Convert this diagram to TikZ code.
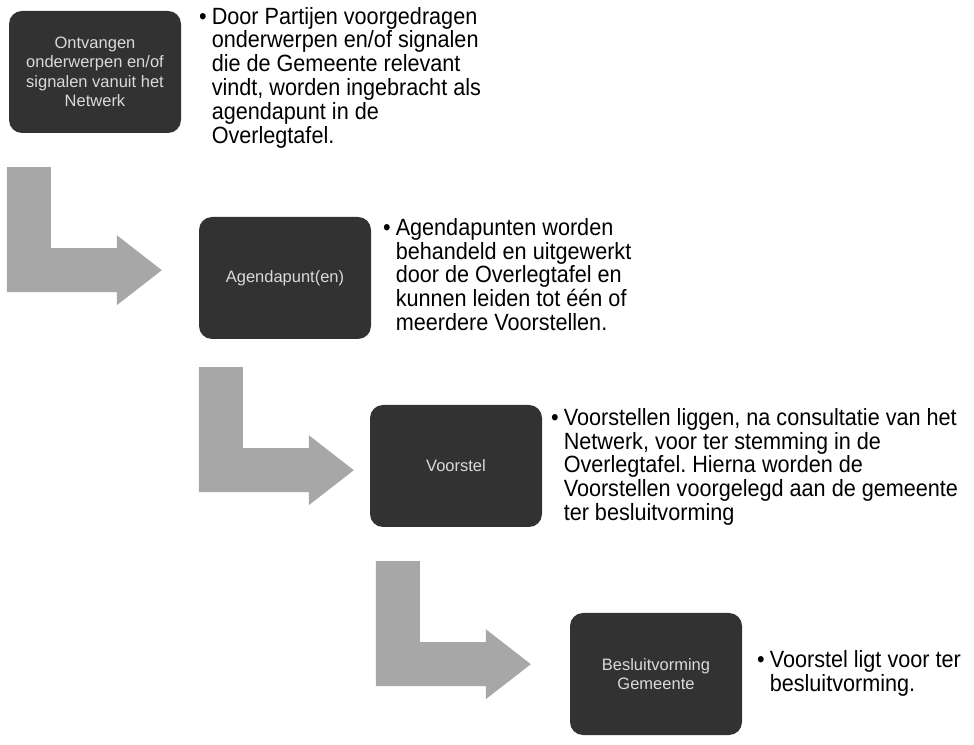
\documentclass[tikz,border=0pt]{standalone}
\usepackage{fontspec}
\setmainfont{Liberation Sans}
\newfontfamily\notefont[FakeStretch=0.92]{Liberation Sans}
\usetikzlibrary{calc}
\frenchspacing

\definecolor{boxgray}{HTML}{323232}
\definecolor{boxtext}{HTML}{DADADA}
\definecolor{arrowgray}{HTML}{A7A7A7}

\tikzset{
  bent/.pic={
    \fill[arrowgray] (0,0) -- (44,0) -- (44,-81) -- (110,-81) -- (110,-68)
      -- (155,-103) -- (110,-138) -- (110,-125) -- (0,-125) -- cycle;
  }
}

\begin{document}
\begin{tikzpicture}[x=1pt, y=1pt]

   \useasboundingbox (0,0) rectangle (974,744);

   \begin{scope}[every node/.style={rectangle, rounded corners=13pt, fill=boxgray, text=boxtext,
       minimum width=172pt, minimum height=122pt, align=center, inner sep=2pt,
       font=\fontsize{16.5}{19.5}\selectfont}]
    \node (b1) at (95,672) {Ontvangen\\onderwerpen en/of\\signalen vanuit het\\Netwerk};
    \node (b2) at (285,466) {Agendapunt(en)};
    \node (b3) at (456,278) {Voorstel};
    \node (b4) at (656,70) {Besluitvorming\\Gemeente};
   \end{scope}

   \pic at ($(b1.south west)+(-2,-34)$) {bent};
   \pic at ($(b2.south west)+(0,-28)$) {bent};
   \pic at ($(b3.south west)+(6,-34)$) {bent};

   \begin{scope}[every node/.style={anchor=north west, inner sep=0pt,
       font=\notefont\fontsize{23.5}{22.5}\selectfont}]
    \node (t1) at (199,737) {\begin{tabular}{@{}l@{\hspace{5pt}}l@{}}
      \textbullet & Door Partijen voorgedragen\\
      & onderwerpen en/of signalen\\
      & die de Gemeente relevant\\
      & vindt, worden ingebracht als\\
      & agendapunt in de\\
      & Overlegtafel.\end{tabular}};
    \node (t2) at (383,526) {\begin{tabular}{@{}l@{\hspace{5pt}}l@{}}
      \textbullet & Agendapunten worden\\
      & behandeld en uitgewerkt\\
      & door de Overlegtafel en\\
      & kunnen leiden tot één of\\
      & meerdere Voorstellen.\end{tabular}};
    \node (t3) at (551,336) {\begin{tabular}{@{}l@{\hspace{5pt}}l@{}}
      \textbullet & Voorstellen liggen, na consultatie van het\\
      & Netwerk, voor ter stemming in de\\
      & Overlegtafel. Hierna worden de\\
      & Voorstellen voorgelegd aan de gemeente\\
      & ter besluitvorming\end{tabular}};
    \node (t4) at (757,94) {\begin{tabular}{@{}l@{\hspace{5pt}}l@{}}
      \textbullet & Voorstel ligt voor ter\\
      & besluitvorming.\end{tabular}};
   \end{scope}

\end{tikzpicture}
\end{document}
